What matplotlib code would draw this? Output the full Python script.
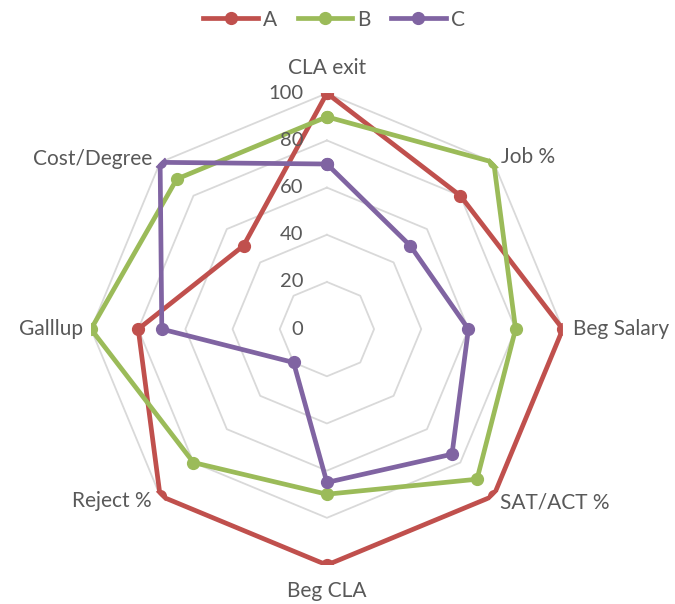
import numpy as np
import matplotlib
matplotlib.use("Agg")
import matplotlib.pyplot as plt
from matplotlib.lines import Line2D

categories = ["CLA exit", "Job %", "Beg Salary", "SAT/ACT %", "Beg CLA",
              "Reject %", "Galllup", "Cost/Degree"]
series_names = ["A", "B", "C"]
values_a = [100, 80, 100, 100, 100, 100, 80, 50]
values_b = [90, 100, 80, 90, 70, 80, 100, 90]
values_c = [70, 50, 60, 75, 65, 20, 70, 100]
ring_ticks = [0, 20, 40, 60, 80, 100]

colors = ["#C0504D", "#9BBB59", "#8064A2"]
text_color = "#595959"
grid_color = "#D9D9D9"

plt.rcParams["font.family"] = ["Lato", "DejaVu Sans"]

fig = plt.figure(figsize=(6.75, 6.04), dpi=100)
ax = fig.add_axes([0.1348, 0.0646, 0.699, 0.781], projection="polar")
ax.set_theta_zero_location("N")
ax.set_theta_direction(-1)
ax.set_ylim(0, 100)
ax.grid(False)
ax.spines["polar"].set_visible(False)
ax.set_xticks([])
ax.set_yticks([])
ax.patch.set_alpha(0)

n = len(categories)
theta = np.arange(n) * 2 * np.pi / n
theta_closed = np.append(theta, theta[0])

# octagonal gridlines
for r in ring_ticks[1:]:
    ax.plot(theta_closed, [r] * (n + 1), color=grid_color, lw=1.3, zorder=1)

# radial value labels along the top spoke
for r in ring_ticks:
    ax.annotate(str(r), xy=(0, r), xytext=(-17, 0), textcoords="offset points",
                ha="right", va="center", fontsize=14.5, color=text_color, zorder=5)

# series
for name, vals, col in zip(series_names, [values_a, values_b, values_c], colors):
    v = np.append(vals, vals[0])
    ax.plot(theta_closed, v, color=col, lw=3.4, marker="o", markersize=8.5,
            label=name, zorder=3, solid_joinstyle="round")

# category labels: alignment and pixel offset from the outer vertex
label_specs = {
    "CLA exit": ("center", (0, 25)),
    "Job %": ("left", (7, 5)),
    "Beg Salary": ("left", (10, 0)),
    "SAT/ACT %": ("left", (6, -7)),
    "Beg CLA": ("center", (0, -26)),
    "Reject %": ("right", (-8, -5)),
    "Galllup": ("right", (-8, 0)),
    "Cost/Degree": ("right", (-8, 3)),
}
for t, cat in zip(theta, categories):
    ha, (dx, dy) = label_specs[cat]
    ax.annotate(cat, xy=(t, 100), xytext=(dx * 0.72, dy * 0.72),
                textcoords="offset points", ha=ha, va="center",
                fontsize=15, color=text_color)

handles = [Line2D([0], [0], color=c, lw=3.4, marker="o", markersize=8.5)
           for c in colors]
fig.legend(handles, series_names, loc="upper center", bbox_to_anchor=(0.495, 1.015),
           ncol=3, frameon=False, fontsize=15, handlelength=2.6,
           columnspacing=1.0, handletextpad=0.25, labelcolor=text_color)

fig.savefig("out.png", dpi=100)
